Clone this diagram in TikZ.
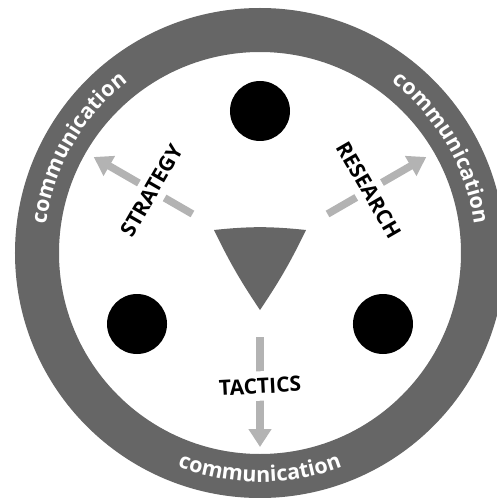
\documentclass[tikz,border=0pt]{standalone}
\usepackage{fontspec}
\setmainfont{Open Sans}
\usetikzlibrary{arrows.meta,decorations.text}

\definecolor{ringgray}{HTML}{666666}
\definecolor{arrowgray}{HTML}{B3B3B3}

\newcommand{\labelfont}{\bfseries\fontsize{21pt}{25pt}\selectfont}
\newcommand{\ringfont}{\bfseries\fontsize{21.5pt}{25pt}\selectfont}

\tikzset{
	flow/.style={draw=arrowgray, line width=7.5pt, -{Triangle[length=18pt,width=22pt]}},
	flowlabel/.style={fill=white, inner sep=7pt, font=\labelfont},
	ringtext/.style={decorate, decoration={text along path, text align=center,
		text color=white, text={|\ringfont|communication}}}
}

\begin{document}
\begin{tikzpicture}[x=1pt,y=1pt]

	\useasboundingbox (-260,-245) rectangle (237,253);
	\coordinate (O) at (0,0);

	% outer ring
	\fill[ringgray, even odd rule] (O) circle[radius=245] (O) circle[radius=201];

	% labels on the ring
	\path[ringtext] (200:216) arc[start angle=200, end angle=100, radius=216];
	\path[ringtext] (80:216) arc[start angle=80, end angle=-20, radius=216];
	\path[ringtext] (220:229) arc[start angle=220, end angle=320, radius=229];

	% centre triangle
	\fill[ringgray] (-46,23) to[bend left=6] (46,23) to[bend left=4] (0,-57)
		to[bend left=4] cycle;

	% dots
	\foreach \a in {90,210,330}
		\fill (\a:142) circle[radius=30];

	% arrow ends
	\coordinate (s0) at (150:78);
	\coordinate (s1) at (150:192);
	\coordinate (r0) at (30:78);
	\coordinate (r1) at (30:192);
	\coordinate (t0) at (270:84);
	\coordinate (t1) at (270:194);

	% arrows
	\draw[flow] (s0) -- (s1);
	\draw[flow] (r0) -- (r1);
	\draw[flow] (t0) -- (t1);

	% arrow labels
	\node[flowlabel, rotate=60] (strategy) at (150:125) {STRATEGY};
	\node[flowlabel, rotate=-60] (research) at (30:126) {RESEARCH};
	\node[flowlabel, rotate=3] (tactics) at (270:133) {TACTICS};

\end{tikzpicture}
\end{document}
